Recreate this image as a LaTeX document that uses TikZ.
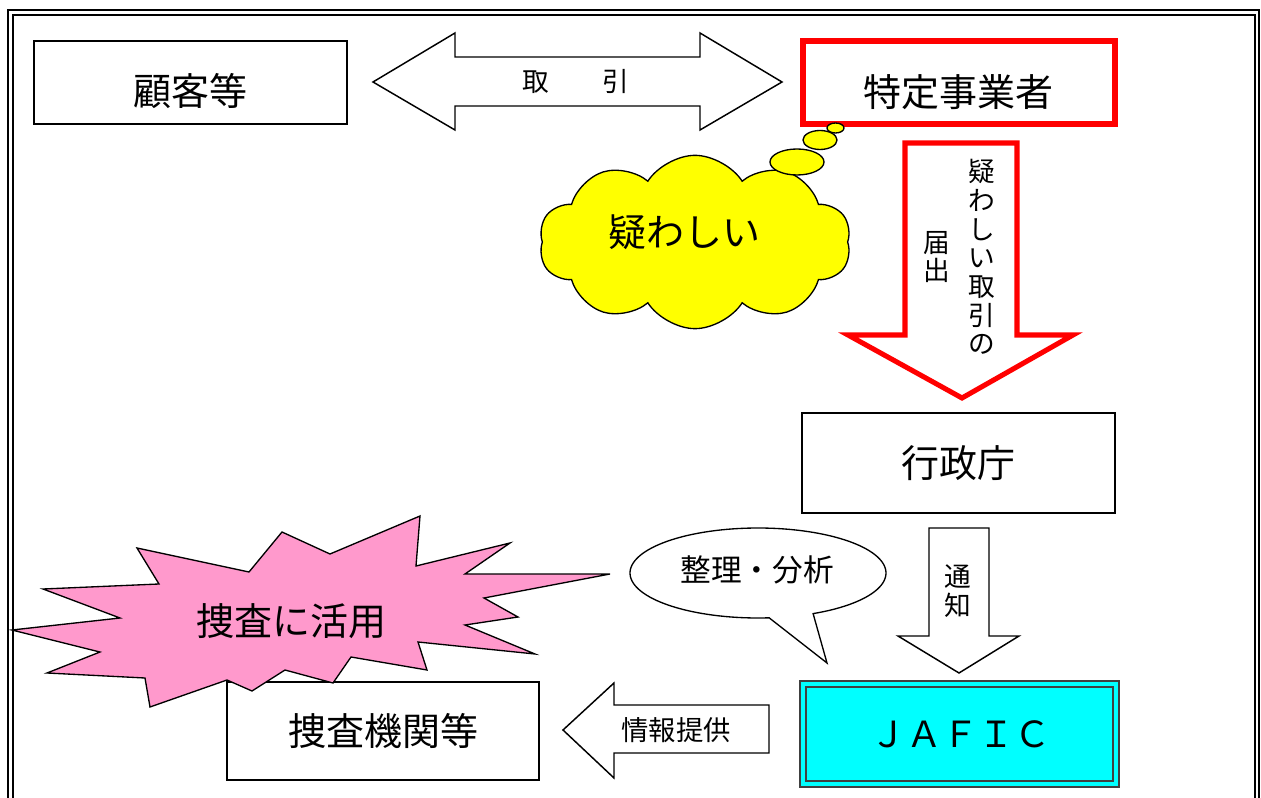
\documentclass[tikz,border=0pt]{standalone}
\usepackage{fontspec}
\setmainfont{Noto Sans CJK JP}
\usetikzlibrary{shapes.symbols,fit}
\definecolor{pinkfill}{RGB}{255,153,204}
\definecolor{cyanfill}{RGB}{0,255,255}
\definecolor{yellowfill}{RGB}{255,255,0}
\definecolor{redline}{RGB}{255,0,0}
\definecolor{jaficline}{RGB}{64,64,64}
\begin{document}
\begin{tikzpicture}[x=0.75pt,y=-0.75pt,
  box/.style={draw=black,line width=1.5pt,fill=white,inner sep=0pt},
  redbox/.style={draw=redline,line width=4pt,fill=white,inner sep=0pt},
  blockarrow/.style={draw=black,line width=1.1pt,fill=white,line join=miter},
  bigtext/.style={font=\fontsize{28.5}{30}\selectfont,inner sep=0pt},
  midtext/.style={font=\fontsize{20}{22}\selectfont,inner sep=0pt},
  vtext/.style={font=\fontsize{20}{21.5}\selectfont,align=center,inner sep=0pt}]
\useasboundingbox (0,0) rectangle (1261,798);
\begin{scope}
\clip (0,0) rectangle (1261,798);
% frame
\draw[line width=1.6pt] (8,10) rectangle (1259,830);
\draw[line width=1.6pt] (13,15) rectangle (1255,830);

% top boxes
\node[box,fit={(34,41) (347,124)}] (kokyaku) {};
\node[bigtext] (kokyakut) at (190,91) {顧客等};
\node[redbox,fit={(803,41) (1115,124)}] (tokutei) {};
\node[bigtext] (tokuteit) at (958,92) {特定事業者};

% double arrow
\draw[blockarrow] (373,82) -- (455,33) -- (455,57) -- (700,57) -- (700,33) -- (782,82)
  -- (700,130) -- (700,106) -- (455,106) -- (455,130) -- cycle;
\node[midtext] (torihiki) at (576,82) {取　　引};

% cloud
\node[cloud,cloud puffs=10,cloud puff arc=115,cloud ignores aspect,draw=black,line width=1pt,
  fill=yellowfill,minimum width=234pt,minimum height=130pt] (cloud) at (695,242) {};
\node[bigtext] (cloudt) at (684,232) {疑わしい};
\draw[fill=yellowfill,line width=1pt] (797,162) ellipse [x radius=27,y radius=13];
\draw[fill=yellowfill,line width=1pt] (820,140) ellipse [x radius=17,y radius=9.5];
\draw[fill=yellowfill,line width=1pt] (835.5,128) ellipse [x radius=8.5,y radius=5];

% red arrow
\draw[draw=redline,line width=3.8pt,fill=white,line join=miter]
  (905,143) -- (1017,143) -- (1017,335) -- (1073,335) -- (962,398) -- (848,335) -- (905,335) -- cycle;
\node[vtext] (todoke1) at (982,257) {疑\\わ\\し\\い\\取\\引\\の};
\node[vtext] (todoke2) at (937,257) {届\\出};

% gyosei
\node[box,fit={(802,413) (1115,513)}] (gyosei) {};
\node[bigtext] (gyoseit) at (958,463) {行政庁};

% tsuchi arrow
\draw[blockarrow] (929,528) -- (989,528) -- (989,636) -- (1019,636) -- (959,673) -- (898,636) -- (929,636) -- cycle;
\node[vtext] (tsuchi) at (958,591) {通\\知};

% speech bubble
\draw[fill=white,line width=1pt] plot[domain=85:424.5,samples=120] ({758+128*cos(\x)},{573+45*sin(\x)}) -- (827,663) -- cycle;
\node[font=\fontsize{23}{25}\selectfont,inner sep=0pt] (seiri) at (757,570) {整理・分析};

% JAFIC
\node[draw=jaficline,line width=1.6pt,fill=cyanfill,inner sep=0pt,fit={(800,681) (1119,787)}] (jafic) {};
\draw[draw=jaficline,line width=1.8pt] (806,687) rectangle (1113,781);
\node[font=\fontsize{27}{29}\selectfont,inner sep=0pt] (jafict) at (960,734) {ＪＡＦＩＣ};

% info arrow
\draw[blockarrow] (563,730) -- (614,683) -- (614,705) -- (769,705) -- (769,753) -- (614,753) -- (614,778) -- cycle;
\node[font=\fontsize{20.5}{22}\selectfont,inner sep=0pt] (joho) at (676,730) {情報提供};

% sousa box
\node[box,fit={(227,682) (539,780)}] (sousa) {};
\node[bigtext] (sousat) at (383,731) {捜査機関等};

% starburst
\draw[fill=pinkfill,line width=1pt,line join=miter]
  (12,630) -- (120,618) -- (43,589) -- (159,584) -- (137,548) -- (249,572) -- (282,532)
  -- (330,554) -- (420,516) -- (416,566) -- (510,543) -- (465,574) -- (610,574)
  -- (484,598) -- (518,617) -- (465,625) -- (535,654) -- (418,642) -- (427,670)
  -- (351,657) -- (333,683) -- (285,670) -- (252,691) -- (227,680) -- (150,707)
  -- (145,678) -- (47,673) -- (100,652) -- cycle;
\node[bigtext] (katsuyo) at (291,621) {捜査に活用};
\end{scope}
\end{tikzpicture}
\end{document}
